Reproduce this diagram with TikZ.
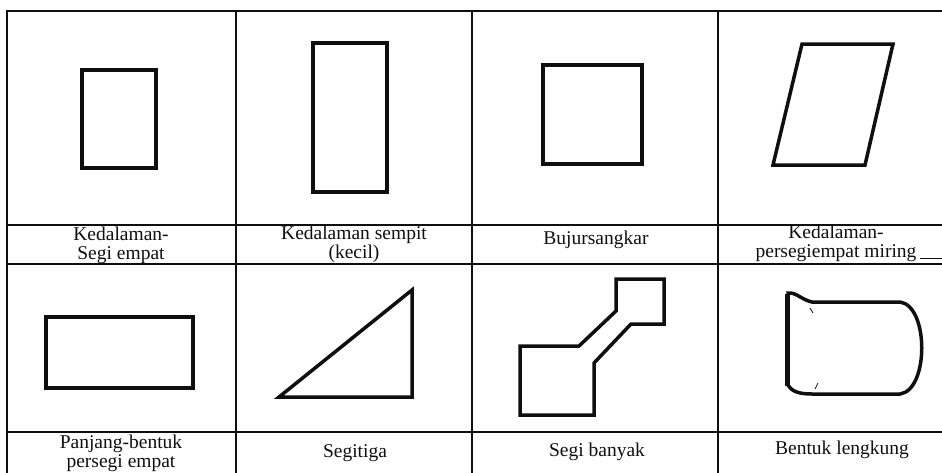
\documentclass[tikz,border=0pt]{standalone}
\usepackage{fontspec}
\setmainfont{Liberation Serif}
\usetikzlibrary{positioning,calc}
\definecolor{scanblack}{RGB}{15,15,15}

\begin{document}
\begin{tikzpicture}[x=1pt,y=-1pt,
    gridline/.style={draw=scanblack,line width=1.3pt},
    figline/.style={draw=scanblack,line width=3.5pt,line join=miter},
    caption/.style={font=\fontsize{19.5}{19}\selectfont,align=center,
                    inner sep=0pt,text=scanblack}]
    \useasboundingbox (0,0) rectangle (942,472);
    \clip (0,0) rectangle (942,472);
    % table grid
    \draw[gridline] (7,11) rectangle (958,492);
    \foreach \gx in {236,472,718}
      \draw[gridline] (\gx,11) -- (\gx,492);
    \foreach \gy in {225,264,432}
      \draw[gridline] (7,\gy) -- (958,\gy);
    \draw[gridline,line width=1pt] (920,258.5) -- (942,258.5);
    % row 1 figures
    \draw[figline] (82,70) rectangle (156,168);
    \draw[figline] (313,43) rectangle (387,192);
    \draw[figline] (543,65) rectangle (642,164);
    \draw[figline] (802,44) -- (893,44) -- (865,165) -- (773,165) -- cycle;
    % row 2 figures
    \draw[figline] (46,317) rectangle (193,388);
    \draw[figline] (279,397) -- (412,290) -- (412,397) -- cycle;
    \draw[figline] (616,279) -- (664,279) -- (664,324) -- (631,324) -- (594,363)
      -- (594,415) -- (520,415) -- (520,346) -- (579,346) -- (616,311) -- cycle;
    \draw[figline] (788,293) .. controls (796,292) and (802,300) .. (812,302)
      -- (900,302) .. controls (929,306) and (929,390) .. (900,394)
      -- (812,394) .. controls (800,394) and (792,392) .. (788,385) -- cycle;
    \draw[figline,line width=5pt] (787,294) -- (787,386);
    \draw[scanblack,line width=0.8pt] (810,308) -- (813,313);
    \draw[scanblack,line width=0.8pt] (818,383) -- (815,389);
    % captions
    \node[caption] (capRect)   at (121,245) {Kedalaman-\\Segi empat};
    \node[caption] (capNarrow) at (354,244.5) {Kedalaman sempit\\(kecil)};
    \node[caption] (capSquare) at (596,240) {Bujursangkar};
    \node[caption] (capSlant)  at (836,243) {Kedalaman-\\persegiempat miring};
    \node[caption] (capLong)   at (121,453) {Panjang-bentuk\\persegi empat};
    \node[caption] (capTri)    at (355,453) {Segitiga};
    \node[caption] (capPoly)   at (597,452) {Segi banyak};
    \node[caption] (capCurve)  at (842,450) {Bentuk lengkung};
  \end{tikzpicture}
\end{document}
